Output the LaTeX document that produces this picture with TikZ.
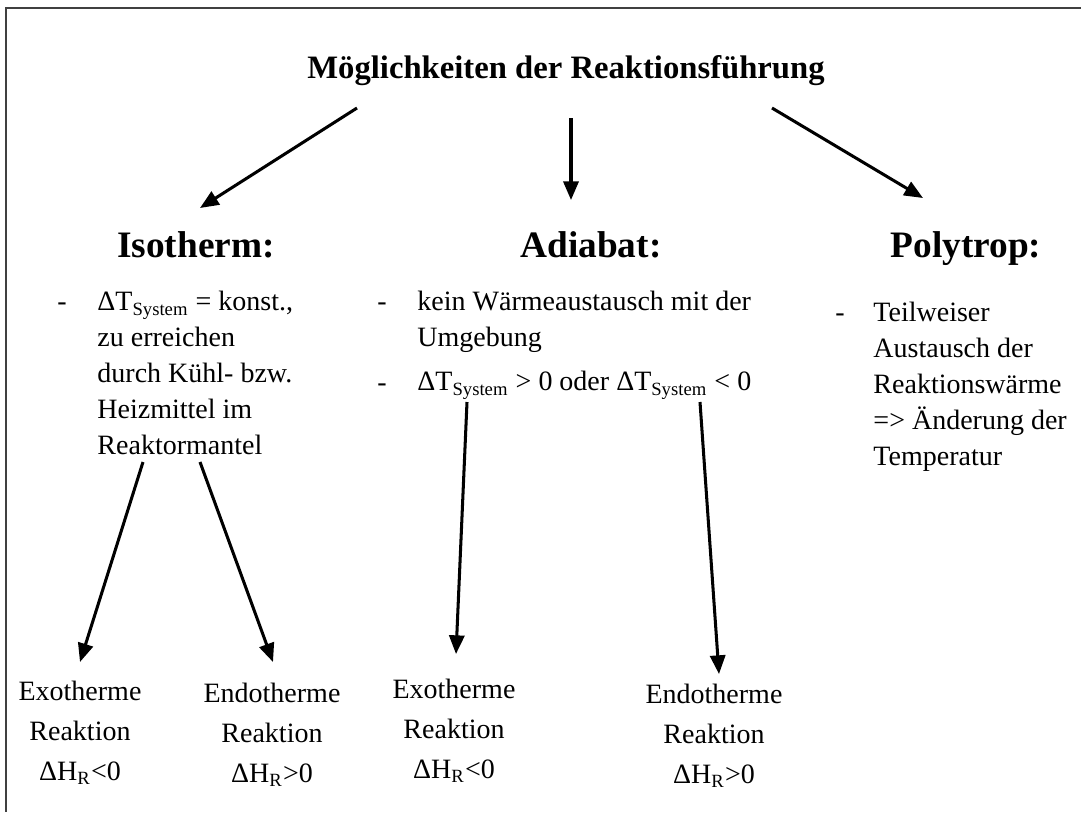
\documentclass[tikz,border=0pt]{standalone}
\usepackage{fontspec}
\setmainfont{Liberation Serif}
\usetikzlibrary{arrows.meta}

\begin{document}
\begin{tikzpicture}[x=0.4286pt,y=-0.4286pt,
  titel/.style={font=\fontsize{14}{17}\selectfont\bfseries, inner sep=0pt, anchor=base},
  kopf/.style={font=\fontsize{16}{19}\selectfont\bfseries, inner sep=0pt, anchor=base},
  txt/.style={font=\fontsize{12}{15.4}\selectfont, align=left, inner sep=0pt, anchor=north west},
  strich/.style={font=\fontsize{12}{15.4}\selectfont, inner sep=0pt, anchor=base},
  fall/.style={font=\fontsize{12}{17.1}\selectfont, align=center, inner sep=0pt, anchor=north},
  pfeil/.style={-{Triangle[length=8pt,width=6.5pt]}, line width=1.3pt}]
  \useasboundingbox (0,0) rectangle (1081,812);
  \draw[black!75, line width=0.9pt] (1081,8) -- (6,8) -- (6,812);

  % Ueberschrift und drei Arten
  \node[titel] (titel) at (566,78) {Möglichkeiten der Reaktionsführung};
  \node[kopf] (iso) at (196,257) {Isotherm:};
  \node[kopf] (adi) at (591,257) {Adiabat:};
  \node[kopf] (poly) at (966,257) {Polytrop:};

  % Stichpunkte
  \node[strich] (iso-s) at (62,310) {-};
  \node[txt] (iso-t) at (97,291) {ΔT\textsubscript{System} = konst.,\\ zu erreichen\\ durch Kühl- bzw.\\ Heizmittel im\\ Reaktormantel};
  \node[strich] (adi-s1) at (382,310) {-};
  \node[txt] (adi-t1) at (417,291) {kein Wärmeaustausch mit der\\ Umgebung};
  \node[strich] (adi-s2) at (382,391) {-};
  \node[txt] (adi-t2) at (417,371) {ΔT\textsubscript{System} > 0 oder ΔT\textsubscript{System} < 0};
  \node[strich] (poly-s) at (840,321) {-};
  \node[txt] (poly-t) at (873,302) {Teilweiser\\ Austausch der\\ Reaktionswärme\\ => Änderung der\\ Temperatur};

  % Faelle
  \node[fall] (iso-exo) at (80,681) {Exotherme\\ Reaktion\\ ΔH\textsubscript{R}<0};
  \node[fall] (iso-endo) at (272,683) {Endotherme\\ Reaktion\\ ΔH\textsubscript{R}>0};
  \node[fall] (adi-exo) at (454,679) {Exotherme\\ Reaktion\\ ΔH\textsubscript{R}<0};
  \node[fall] (adi-endo) at (714,684) {Endotherme\\ Reaktion\\ ΔH\textsubscript{R}>0};

  % Pfeile
  \coordinate (a1) at (357,108);  \coordinate (b1) at (200,208);
  \coordinate (a2) at (571,118);  \coordinate (b2) at (571,200);
  \coordinate (a3) at (772,108);  \coordinate (b3) at (923,198);
  \coordinate (a4) at (143,462);  \coordinate (b4) at (80,662);
  \coordinate (a5) at (200,462);  \coordinate (b5) at (273,662);
  \coordinate (a6) at (467,402);  \coordinate (b6) at (456,654);
  \coordinate (a7) at (700,402);  \coordinate (b7) at (719,674);
  \draw[pfeil] (a1) -- (b1);
  \draw[pfeil] (a2) -- (b2);
  \draw[pfeil] (a3) -- (b3);
  \draw[pfeil] (a4) -- (b4);
  \draw[pfeil] (a5) -- (b5);
  \draw[pfeil] (a6) -- (b6);
  \draw[pfeil] (a7) -- (b7);
\end{tikzpicture}
\end{document}
